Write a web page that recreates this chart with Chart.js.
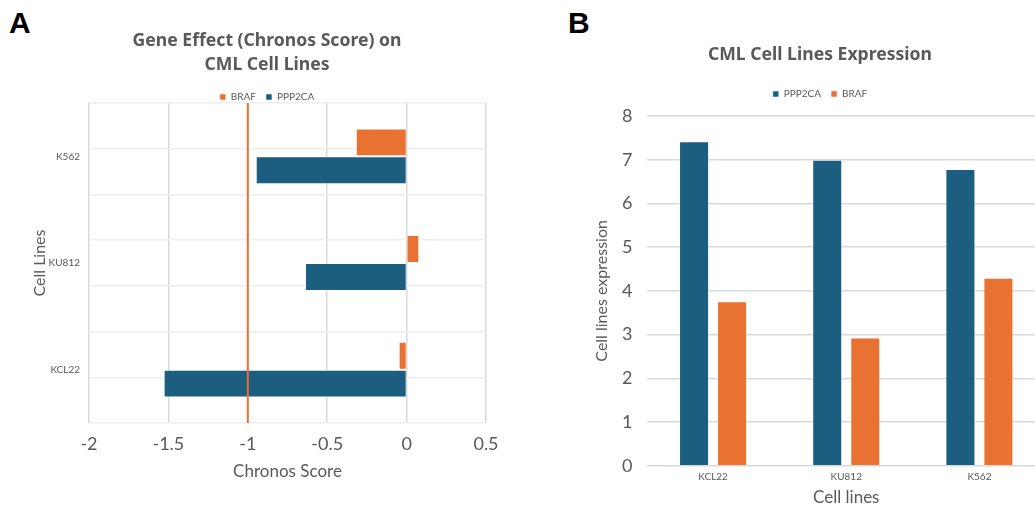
<!DOCTYPE html>
<html>
<head>
<meta charset="utf-8">
<script src="https://cdn.jsdelivr.net/npm/chart.js@4.4.0/dist/chart.umd.min.js"></script>
<style>
body { margin: 0; width: 1035px; height: 506px; overflow: hidden; background: #fff; position: relative; }
#chartA { position: absolute; left: 0; top: 0; }
#chartB { position: absolute; left: 520px; top: 0; }
.panel-tag { position: absolute; top: 8px; font: bold 30px "Liberation Sans", Arial, sans-serif; line-height: 30px; color: #000; }
</style>
</head>
<body>
<div class="panel-tag" style="left:9px">A</div>
<div class="panel-tag" style="left:568px">B</div>
<canvas id="chartA" width="520" height="506"></canvas>
<canvas id="chartB" width="526" height="506"></canvas>
<script>
// Panel A - gene effect
const cellLinesA = ['K562', 'KU812', 'KCL22'];
const brafScore = [-0.32, 0.08, -0.05];
const ppp2caScore = [-0.95, -0.64, -1.53];
const scoreMin = -2;
const scoreMax = 0.5;
const scoreStep = 0.5;
const cutoffScore = -1;

// Panel B - expression
const cellLinesB = ['KCL22', 'KU812', 'K562'];
const ppp2caExpr = [7.42, 7.00, 6.79];
const brafExpr = [3.76, 2.93, 4.30];
const exprMax = 8;

const BLUE = '#1b5e80';
const ORANGE = '#e97132';
const GREY = '#595959';
const FONT = "Lato, 'Liberation Sans', sans-serif";
const TITLE_FONT = "'Noto Sans', sans-serif";

// shift the chart area up/down below the legend
const legendGap = {
    id: 'legendGap',
    beforeInit(chart, args, opts) {
        const fitLegend = chart.legend.fit;
        chart.legend.fit = function fit() {
            fitLegend.bind(chart.legend)();
            this.height += opts.extra;
        };
    }
};

// vertical reference line at the cutoff score
const cutoffLine = {
    id: 'cutoffLine',
    afterDatasetsDraw(chart, args, opts) {
        const { ctx, chartArea, scales } = chart;
        const x = scales.x.getPixelForValue(opts.value);
        ctx.save();
        ctx.strokeStyle = opts.color;
        ctx.lineWidth = opts.width;
        ctx.beginPath();
        ctx.moveTo(x, chartArea.top);
        ctx.lineTo(x, chartArea.bottom);
        ctx.stroke();
        ctx.restore();
    }
};

new Chart(document.getElementById('chartA'), {
    type: 'bar',
    data: {
        labels: cellLinesA,
        datasets: [
            { label: 'BRAF', data: brafScore, backgroundColor: ORANGE, borderColor: 'rgba(255,255,255,0.5)', borderWidth: 1 },
            { label: 'PPP2CA', data: ppp2caScore, backgroundColor: BLUE, borderColor: 'rgba(255,255,255,0.5)', borderWidth: 1 }
        ]
    },
    options: {
        indexAxis: 'y',
        responsive: false,
        animation: false,
        devicePixelRatio: 1,
        layout: { padding: { left: 48, right: 34, top: 0, bottom: 24 } },
        datasets: { bar: { categoryPercentage: 0.523, barPercentage: 1 } },
        plugins: {
            title: {
                display: true,
                text: ['Gene Effect (Chronos Score) on', 'CML Cell Lines'],
                color: GREY,
                font: { family: TITLE_FONT, size: 17.6, weight: 'bold', lineHeight: 24 / 17.6 },
                padding: { top: 29, bottom: 5 }
            },
            legend: {
                labels: { boxWidth: 6, boxHeight: 6, padding: 10, color: GREY, font: { family: FONT, size: 10 } }
            },
            tooltip: { enabled: false },
            legendGap: { extra: -9 },
            cutoffLine: { value: cutoffScore, color: ORANGE, width: 2 }
        },
        scales: {
            x: {
                min: scoreMin,
                max: scoreMax,
                ticks: {
                    stepSize: scoreStep, color: GREY, font: { family: FONT, size: 18 }, padding: 10,
                    callback: (v) => String(+v.toFixed(2))
                },
                grid: { color: '#d9d9d9', lineWidth: 1.5, drawTicks: false },
                border: { display: false },
                title: { display: true, text: 'Chronos Score', color: GREY, font: { family: FONT, size: 17 }, padding: { top: -3, bottom: 0 } }
            },
            y: {
                ticks: { color: GREY, font: { family: FONT, size: 10 }, padding: 9 },
                grid: { display: false, drawTicks: false },
                border: { display: false },
                title: { display: true, text: 'Cell Lines', color: GREY, font: { family: FONT, size: 16 }, padding: { top: -18, bottom: 0 } },
                afterFit(scale) { scale.width = 41; }
            },
            rows: {
                type: 'linear',
                position: 'left',
                min: 0,
                max: cellLinesA.length * 2,
                ticks: { display: false, stepSize: 1 },
                grid: { color: '#eeeeee', lineWidth: 1.5, drawTicks: false },
                border: { display: false },
                afterFit(scale) { scale.width = 0; }
            }
        }
    },
    plugins: [legendGap, cutoffLine]
});

new Chart(document.getElementById('chartB'), {
    type: 'bar',
    data: {
        labels: cellLinesB,
        datasets: [
            { label: 'PPP2CA', data: ppp2caExpr, backgroundColor: BLUE, borderColor: 'rgba(255,255,255,0.5)', borderWidth: 1 },
            { label: 'BRAF', data: brafExpr, backgroundColor: ORANGE, borderColor: 'rgba(255,255,255,0.5)', borderWidth: 1 }
        ]
    },
    options: {
        responsive: false,
        animation: false,
        devicePixelRatio: 1,
        layout: { padding: { left: 74, right: 0, top: 0, bottom: 0 } },
        datasets: { bar: { categoryPercentage: 0.571, barPercentage: 0.79 } },
        plugins: {
            title: {
                display: true,
                text: 'CML Cell Lines Expression',
                color: GREY,
                font: { family: TITLE_FONT, size: 17.6, weight: 'bold', lineHeight: 24 / 17.6 },
                padding: { top: 43, bottom: 12 }
            },
            legend: {
                labels: { boxWidth: 6, boxHeight: 6, padding: 10, color: GREY, font: { family: FONT, size: 10 } }
            },
            tooltip: { enabled: false },
            legendGap: { extra: 7 }
        },
        scales: {
            x: {
                ticks: { color: GREY, font: { family: FONT, size: 10 }, padding: 5 },
                grid: { display: false, drawTicks: false },
                border: { display: false },
                title: { display: true, text: 'Cell lines', color: GREY, font: { family: FONT, size: 17, lineHeight: 1 }, padding: { top: 1.3, bottom: 0 } }
            },
            y: {
                min: 0,
                max: exprMax,
                ticks: { stepSize: 1, color: GREY, font: { family: FONT, size: 18 }, padding: 14 },
                grid: { color: '#d9d9d9', lineWidth: 1.5, drawTicks: false },
                border: { display: false },
                title: { display: true, text: 'Cell lines expression', color: GREY, font: { family: FONT, size: 16 }, padding: { top: -2, bottom: 0 } },
                afterFit(scale) { scale.width = 52.5; }
            }
        }
    },
    plugins: [legendGap]
});
</script>
</body>
</html>
